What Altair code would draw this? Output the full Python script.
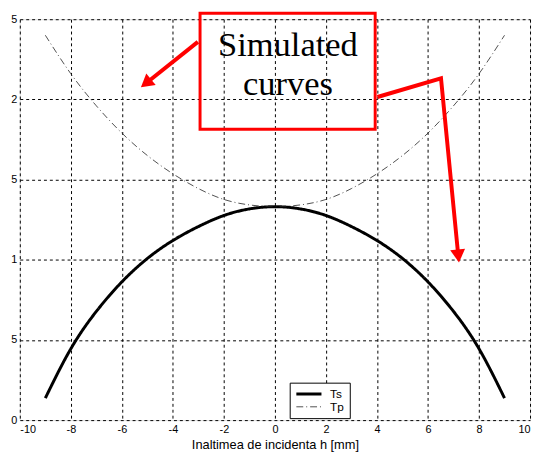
import altair as alt
import pandas as pd

# ---- data ----
x_vals = [-9, -8, -7, -6, -5, -4, -3, -2, -1, 0, 1, 2, 3, 4, 5, 6, 7, 8, 9]
ts_vals = [0.137, 0.445, 0.678, 0.862, 1.008, 1.12, 1.207, 1.276, 1.317, 1.331,
           1.317, 1.276, 1.207, 1.12, 1.008, 0.862, 0.678, 0.445, 0.137]
tp_vals = [2.40, 2.16, 1.96, 1.79, 1.65, 1.536, 1.444, 1.376, 1.342, 1.331,
           1.342, 1.376, 1.444, 1.536, 1.65, 1.79, 1.96, 2.16, 2.40]
series_names = ["Ts", "Tp"]
x_ticks = [-10, -8, -6, -4, -2, 0, 2, 4, 6, 8, 10]
y_ticks = [0, 0.5, 1, 1.5, 2, 2.5]

# annotation (in data units)
box_x = [-2.935, 3.93]
box_y = [1.814, 2.537]
note_lines = ["Simulated", "curves"]
note_x = [0.51, 0.51]
note_y = [2.271, 2.025]
arrow1_x = [-3.02, -4.99]
arrow1_y = [2.359, 2.109]
arrow2_x = [4.02, 6.51, 7.18]
arrow2_y = [2.015, 2.131, 1.037]
head_x = [-4.99, 7.18]
head_y = [2.109, 1.037]
head_angle = [231, 174]

rows = []
for name, vals in zip(series_names, [ts_vals, tp_vals]):
    for xv, yv in zip(x_vals, vals):
        rows.append({"x": xv, "y": yv, "series": name})
df = pd.DataFrame(rows)

xs = alt.Scale(domain=[-10, 10], nice=False)
ys = alt.Scale(domain=[0, 2.5], nice=False)

axis_common = dict(grid=True, ticks=False, domain=False, gridColor="black", gridDash=[3, 3],
                   gridOpacity=1, gridWidth=1, labelFont="Liberation Sans", labelFontSize=11,
                   labelColor="black")

legend = alt.Legend(title=None, orient="none", legendX=274, legendY=369,
                    fillColor="white", strokeColor="black", padding=5,
                    labelFont="Liberation Sans", labelFontSize=12, labelColor="black",
                    symbolType="stroke", symbolSize=650, clipHeight=13, rowPadding=0,
                    labelOffset=7)

lines = alt.Chart(df).mark_line(interpolate="natural").encode(
    x=alt.X("x:Q", scale=xs, axis=alt.Axis(values=x_ticks, title="Inaltimea de incidenta h [mm]",
                                            labelPadding=4, labelExpr="toString(datum.value)",
                                            titleFont="Liberation Sans", titleFontSize=13,
                                            titleFontWeight="normal", titleColor="black",
                                            titlePadding=4, **axis_common)),
    y=alt.Y("y:Q", scale=ys, axis=alt.Axis(values=y_ticks, title=None, labelPadding=3,
                                            labelExpr="slice(toString(datum.value), -1)",
                                            **axis_common)),
    color=alt.Color("series:N", scale=alt.Scale(domain=series_names, range=["black", "#222"]), legend=legend),
    strokeDash=alt.StrokeDash("series:N", scale=alt.Scale(domain=series_names, range=[[1, 0], [7, 3, 1, 3]]), legend=legend),
    strokeWidth=alt.StrokeWidth("series:N", scale=alt.Scale(domain=series_names, range=[3, 0.8]), legend=legend),
)

box_df = pd.DataFrame({"x": [box_x[0]], "x2": [box_x[1]], "y": [box_y[0]], "y2": [box_y[1]]})
box = alt.Chart(box_df).mark_rect(fill=None, fillOpacity=0, stroke="red", strokeWidth=3).encode(
    x=alt.X("x:Q", scale=xs), x2="x2:Q", y=alt.Y("y:Q", scale=ys), y2="y2:Q")

text_df = pd.DataFrame({"x": note_x, "y": note_y, "t": note_lines})
text = alt.Chart(text_df).mark_text(font="Liberation Serif", fontSize=35, color="black",
                                    align="center", baseline="alphabetic").encode(
    x=alt.X("x:Q", scale=xs), y=alt.Y("y:Q", scale=ys), text="t:N")

a1 = alt.Chart(pd.DataFrame({"x": arrow1_x, "y": arrow1_y, "o": list(range(len(arrow1_x)))})).mark_line(
    color="red", strokeWidth=4).encode(x=alt.X("x:Q", scale=xs), y=alt.Y("y:Q", scale=ys), order="o:Q")
a2 = alt.Chart(pd.DataFrame({"x": arrow2_x, "y": arrow2_y, "o": list(range(len(arrow2_x)))})).mark_line(
    color="red", strokeWidth=4, strokeJoin="miter").encode(x=alt.X("x:Q", scale=xs), y=alt.Y("y:Q", scale=ys), order="o:Q")
heads = alt.Chart(pd.DataFrame({"x": head_x, "y": head_y, "a": head_angle})).mark_point(
    shape="triangle", filled=True, color="red", size=230, opacity=1).encode(
    x=alt.X("x:Q", scale=xs), y=alt.Y("y:Q", scale=ys), angle=alt.Angle("a:Q", scale=None))

chart = alt.layer(lines, box, text, a1, a2, heads).properties(
    width=518, height=407,
    autosize=alt.AutoSizeParams(type="none"),
    padding={"left": 12, "top": 8, "right": 2, "bottom": 30},
).configure_view(stroke="#555", strokeWidth=1).configure(background="white")

chart.save("out.html", embed_options={"renderer": "svg", "actions": False})
